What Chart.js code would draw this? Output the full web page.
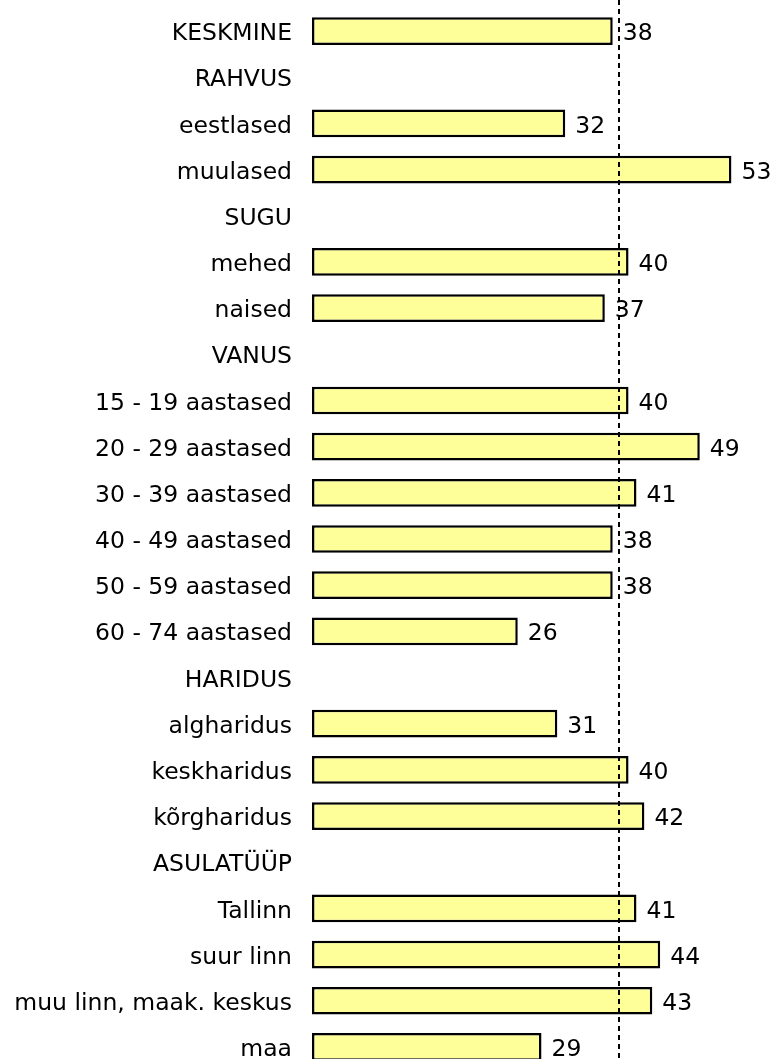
<!DOCTYPE html>
<html>
<head>
<meta charset="utf-8">
<script src="https://cdn.jsdelivr.net/npm/chart.js@4.4.1/dist/chart.umd.min.js"></script>
<style>
  html, body { margin: 0; padding: 0; background: #fff; overflow: hidden; }
  #wrap { width: 771px; height: 1059px; overflow: hidden; position: relative; }
  canvas { display: block; }
</style>
</head>
<body>
<div id="wrap"><canvas id="chart" width="771" height="1070"></canvas></div>
<script>
const labels = [
  "KESKMINE", "RAHVUS", "eestlased", "muulased", "SUGU", "mehed", "naised",
  "VANUS", "15 - 19 aastased", "20 - 29 aastased", "30 - 39 aastased",
  "40 - 49 aastased", "50 - 59 aastased", "60 - 74 aastased", "HARIDUS",
  "algharidus", "keskharidus", "kõrgharidus", "ASULATÜÜP", "Tallinn",
  "suur linn", "muu linn, maak. keskus", "maa"
];
const values = [
  38, null, 32, 53, null, 40, 37,
  null, 40, 49, 41,
  38, 38, 26, null,
  31, 40, 42, null, 41,
  44, 43, 29
];
const averageLine = 38.8;
const xMax = 58;

const FONT = "DejaVu Sans";
const FONT_SIZE = 23.5;

const extras = {
  id: "extras",
  afterDatasetsDraw(chart) {
    const ctx = chart.ctx;
    const x = chart.scales.x;
    const meta = chart.getDatasetMeta(0);

    // dashed average line
    const lx = Math.round(x.getPixelForValue(averageLine));
    ctx.save();
    ctx.strokeStyle = "#000";
    ctx.lineWidth = 2;
    ctx.setLineDash([5, 4]);
    ctx.beginPath();
    ctx.moveTo(lx, 0);
    ctx.lineTo(lx, chart.height);
    ctx.stroke();
    ctx.restore();

    // value labels
    ctx.save();
    ctx.fillStyle = "#000";
    ctx.font = FONT_SIZE + "px '" + FONT + "'";
    ctx.textAlign = "left";
    ctx.textBaseline = "middle";
    meta.data.forEach((bar, i) => {
      if (values[i] == null) return;
      ctx.fillText(String(values[i]), bar.x + 10, bar.y + 3);
    });
    ctx.restore();
  }
};

new Chart(document.getElementById("chart"), {
  type: "bar",
  data: {
    labels: labels,
    datasets: [{
      data: values,
      backgroundColor: "#FFFF99",
      borderColor: "#000",
      borderWidth: 2.5,
      borderSkipped: false,
      barPercentage: 0.6,
      categoryPercentage: 1
    }]
  },
  options: {
    indexAxis: "y",
    responsive: false,
    animation: false,
    layout: { padding: { top: 8, right: 0, bottom: 0, left: 0 } },
    plugins: {
      legend: { display: false },
      tooltip: { enabled: false }
    },
    scales: {
      x: {
        display: false,
        min: 0,
        max: xMax
      },
      y: {
        grid: { display: false, drawTicks: false },
        border: { display: false },
        ticks: {
          color: "#000",
          padding: 20,
          labelOffset: 3,
          font: { family: FONT, size: FONT_SIZE }
        },
        afterFit(scale) {
          scale.width = 312;
          scale.paddingTop = 0;
          scale.paddingBottom = 0;
        }
      }
    }
  },
  plugins: [extras]
});
</script>
</body>
</html>
